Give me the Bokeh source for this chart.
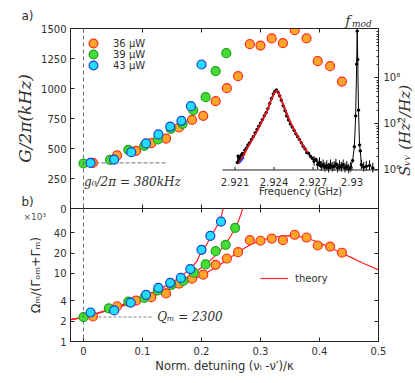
from bokeh.plotting import figure
from bokeh.models import (Range1d, LinearAxis, LogScale, FixedTicker, Span, Label,
                          Legend, LegendItem)
from bokeh.layouts import column
from bokeh.embed import file_html
from bokeh.resources import INLINE
from bokeh.core.properties import value
import math

# ---------------- data: panel a ----------------
det36_a = [0.016, 0.057, 0.089, 0.115, 0.140, 0.162, 0.184, 0.203, 0.224, 0.243,
           0.262, 0.282, 0.300, 0.319, 0.338, 0.358, 0.378, 0.397, 0.418, 0.438]
G36 = [380, 442, 481, 544, 583, 675, 739, 772, 894, 1003,
       1103, 1369, 1358, 1417, 1378, 1486, 1417, 1228, 1186, 1058]
det39_a = [0.000, 0.045, 0.076, 0.103, 0.126, 0.148, 0.168, 0.186, 0.207, 0.224, 0.242]
G39 = [375, 406, 489, 522, 575, 664, 706, 819, 928, 1144, 1294]
det43_a = [0.012, 0.052, 0.081, 0.106, 0.127, 0.147, 0.166, 0.182, 0.200]
G43 = [380, 408, 469, 542, 617, 683, 731, 853, 1200]
series_labels = ["36 μW", "39 μW", "43 μW"]
g0 = 380
G_ticks = [0, 250, 500, 750, 1000, 1250, 1500]
det_ticks = [0.0, 0.1, 0.2, 0.3, 0.4, 0.5]

# inset spectrum (GHz, Hz^2/Hz)
spec_f = [2.92118, 2.92124, 2.92128, 2.92133, 2.92140, 2.92148, 2.92157, 2.92166, 2.92176,
          2.92188, 2.92200, 2.92213, 2.92227, 2.92241, 2.92255, 2.92269, 2.92283, 2.92297,
          2.92311, 2.92325, 2.92339, 2.92353, 2.92367, 2.92381, 2.92395, 2.92407, 2.92419,
          2.92431, 2.92443, 2.92456, 2.92470, 2.92484, 2.92498, 2.92512, 2.92526, 2.92540,
          2.92554, 2.92568, 2.92582, 2.92596, 2.92610, 2.92624, 2.92638, 2.92652, 2.92666,
          2.92680, 2.92694, 2.92708, 2.92722, 2.92736, 2.92750, 2.92764, 2.92778, 2.92792,
          2.92806, 2.92820, 2.92834, 2.92848, 2.92862, 2.92876, 2.92890, 2.92904, 2.92918,
          2.92932, 2.92946, 2.92960, 2.92975, 2.92990, 2.93005, 2.93018, 2.93028, 2.93036,
          2.93040, 2.93044, 2.93050, 2.93058, 2.93064, 2.93072, 2.93090, 2.93110, 2.93135,
          2.93160]
spec_S = [1.45e6, 2.0e6, 1.5e6, 1.9e6, 1.7e6, 2.1e6, 2.3e6, 2.2e6, 2.7e6,
          3.0e6, 3.5e6, 3.9e6, 4.6e6, 5.3e6, 6.4e6, 7.6e6, 8.9e6, 1.05e7,
          1.25e7, 1.5e7, 1.75e7, 2.15e7, 2.8e7, 3.6e7, 4.5e7, 5.1e7, 5.5e7,
          4.9e7, 4.1e7, 3.3e7, 2.5e7, 1.95e7, 1.5e7, 1.22e7, 1.0e7, 8.6e6,
          7.3e6, 6.1e6, 5.3e6, 4.6e6, 3.9e6, 3.3e6, 2.9e6, 2.4e6, 2.3e6,
          2.0e6, 1.8e6, 1.55e6, 1.7e6, 1.3e6, 1.45e6, 1.2e6, 1.3e6, 1.15e6,
          1.25e6, 1.1e6, 1.3e6, 1.15e6, 1.2e6, 1.35e6, 1.1e6, 1.25e6, 1.15e6,
          1.3e6, 1.1e6, 1.2e6, 1.05e6, 1.15e6, 1.6e6, 3.2e6, 1.5e7, 2.0e8,
          1.05e9, 2.5e8, 2.0e7, 3.5e6, 2.6e6, 1.3e6, 1.15e6, 1.2e6, 1.25e6,
          1.1e6]
fit_f = [2.92130, 2.92160, 2.92200, 2.92240, 2.92280, 2.92320, 2.92350, 2.92380, 2.92400,
         2.92420, 2.92440, 2.92460, 2.92490, 2.92520, 2.92560, 2.92600, 2.92640, 2.92660]
fit_S = [1.4e6, 1.95e6, 3.2e6, 5.0e6, 8.0e6, 1.35e7, 2.0e7, 3.4e7, 4.6e7,
         5.4e7, 4.5e7, 3.2e7, 1.95e7, 1.2e7, 7.0e6, 4.4e6, 2.9e6, 2.4e6]
blue_f = [2.92138, 2.92170]
blue_S = [1.45e6, 1.9e6]
freq_ticks = [2.921, 2.924, 2.927, 2.930]
freq_tick_labels = ["2.921", "2.924", "2.927", "2.93"]
S_ticks = [1e6, 1e7, 1e8]
S_tick_labels = ["10⁶", "10⁷", "10⁸"]
S_minor = [m * 10 ** e for e in (6, 7, 8) for m in range(2, 10)] + [1e9]

# ---------------- data: panel b (x 10^3) ----------------
det36_b = det36_a
Q36 = [2.33, 3.3, 4.0, 4.49, 5.08, 7.1, 8.4, 9.6, 13.4, 16.6,
       20.6, 30.9, 30.3, 32.6, 30.9, 37.1, 33.8, 25.8, 24.9, 20.2]
det39_b = [0.000, 0.043, 0.076, 0.103, 0.126, 0.149, 0.169, 0.187, 0.207, 0.224, 0.241, 0.257]
Q39 = [2.28, 3.06, 3.87, 4.39, 5.62, 6.8, 7.8, 10.3, 13.6, 21.3, 26.4, 47.0]
det43_b = [0.012, 0.052, 0.080, 0.106, 0.127, 0.147, 0.165, 0.181, 0.200, 0.215, 0.233]
Q43 = [2.67, 2.86, 3.74, 4.86, 6.16, 7.3, 8.6, 11.6, 22.3, 35.8, 58.0]
Qm = 2.3
Q_ticks = [1, 2, 4, 10, 20, 40]

th36_det = [-0.022, 0.0, 0.025, 0.05, 0.075, 0.10, 0.125, 0.15, 0.175, 0.20, 0.216, 0.232,
            0.249, 0.266, 0.283, 0.30, 0.317, 0.334, 0.348, 0.362, 0.376, 0.39, 0.405,
            0.419, 0.435, 0.4525, 0.475, 0.50]
th36 = [2.1, 2.27, 2.6, 3.0, 3.5, 4.1, 4.9, 6.0, 7.4, 9.3, 11.2, 13.6,
        17.2, 21.8, 26.5, 30.6, 33.5, 35.3, 36.0, 35.5, 33.5, 30.6, 27.0,
        23.9, 20.4, 17.4, 14.0, 11.3]
th39_det = [-0.022, 0.0, 0.025, 0.05, 0.075, 0.10, 0.125, 0.15, 0.175, 0.19, 0.205, 0.215,
            0.224, 0.233, 0.241, 0.249, 0.257, 0.263, 0.267, 0.270]
th39 = [2.1, 2.27, 2.62, 3.05, 3.6, 4.3, 5.25, 6.6, 8.7, 10.5, 13.2, 15.6,
        18.5, 22.5, 27.5, 35.0, 46.0, 60.0, 75.0, 92.0]
th43_det = [-0.022, 0.0, 0.025, 0.05, 0.075, 0.10, 0.125, 0.15, 0.165, 0.181, 0.192, 0.200,
            0.208, 0.216, 0.224, 0.230, 0.234, 0.237]
th43 = [2.1, 2.27, 2.65, 3.1, 3.7, 4.5, 5.6, 7.4, 9.0, 11.7, 15.0, 21.5,
        26.0, 35.0, 46.0, 58.0, 72.0, 92.0]

# ---------------- styles ----------------
C36 = ("#ffa52a", "#ff2d1e")
C39 = ("#44dd33", "#22a022")
C43 = ("#22ddff", "#1f3fd0")
RED = "#ff2222"
FRAME = "#222222"
TXT = "#303030"
SANS = "DejaVu Sans"
SERIF = "DejaVu Serif"
PAGE_W, PAGE_H = 413, 383


def style_axis(ax, ticks, labels=True, tin=4, tout=0):
    ax.axis_line_color = FRAME
    ax.major_tick_line_color = FRAME
    ax.minor_tick_line_color = FRAME
    ax.major_tick_in = tin
    ax.major_tick_out = tout
    ax.minor_tick_in = 2
    ax.minor_tick_out = 0
    ax.major_label_text_color = TXT
    ax.major_label_text_font = SANS
    ax.axis_label_text_color = TXT
    ax.major_label_text_font_size = "10px"
    if labels:
        ax.major_label_standoff = 4
    else:
        ax.major_label_overrides = {t: "" for t in ticks}
        ax.major_label_standoff = 0


# ---------------- overlay for texts lying outside the plot frames ----------------
ov = figure(width=PAGE_W, height=PAGE_H, x_range=Range1d(0, PAGE_W), y_range=Range1d(PAGE_H, 0),
            x_axis_location=None, y_axis_location=None, output_backend="svg",
            toolbar_location=None, min_border=0)
ov.frame_align = False
ov.grid.visible = False
ov.outline_line_color = None
ov.background_fill_color = None
ov.border_fill_color = None
ov.margin = (0, 0, -PAGE_H, 0)


def ov_label(x, y, text, **kw):
    opts = dict(text_color=TXT, text_baseline="middle")
    opts.update(kw)
    ov.add_layout(Label(x=x, y=y, text=text, **opts))


ov_label(21, 15, "a)", text_font=SANS, text_font_size="12px")
ov_label(21, 201, "b)", text_font=SANS, text_font_size="12px")
ov_label(345, 20, "f", text_font=SERIF, text_font_style="italic", text_font_size="13px")
ov_label(351.5, 23, "mod", text_font=SERIF, text_font_style="italic", text_font_size="9px")
ov_label(404, 130, "Sᵥᵥ (Hz²/Hz)", text_align="center", angle=math.pi / 2,
         text_font=SERIF, text_font_style="italic", text_font_size="15px")
ov_label(23, 216, "×10³", text_font=SANS, text_font_size="9px", text_color="#555555")

# ---------------- panel a ----------------
p1 = figure(frame_width=308, frame_height=180,
            x_range=Range1d(-0.022, 0.5), y_range=Range1d(0, 1500),
            x_axis_location=None, y_axis_location=None,
            output_backend="svg", toolbar_location=None,
            min_border_left=70, min_border_right=35, min_border_top=28, min_border_bottom=8)
p1.grid.visible = False
p1.outline_line_color = FRAME
p1.background_fill_color = None
p1.border_fill_color = None
p1.extra_x_ranges = {"freq": Range1d(2.908346, 2.932038)}
p1.extra_y_ranges = {"S": Range1d(1.455e5, 1.191e9)}
p1.extra_y_scales = {"S": LogScale()}

axl = LinearAxis(ticker=FixedTicker(ticks=G_ticks), axis_label="G/2π(kHz)")
style_axis(axl, G_ticks)
axl.axis_label_text_font = SERIF
axl.axis_label_text_font_style = "italic"
axl.axis_label_text_font_size = "17px"
axl.axis_label_standoff = 3
p1.add_layout(axl, "left")

for loc, tout in (("above", 0), ("below", 4)):
    ax = LinearAxis(ticker=FixedTicker(ticks=det_ticks))
    style_axis(ax, det_ticks, labels=False, tout=tout)
    p1.add_layout(ax, loc)

axr = LinearAxis(y_range_name="S", ticker=FixedTicker(ticks=S_ticks, minor_ticks=S_minor),
                 major_label_overrides={t: l for t, l in zip(S_ticks, S_tick_labels)})
style_axis(axr, S_ticks)
axr.major_label_standoff = 5
p1.add_layout(axr, "right")

p1.add_layout(Span(location=0, dimension="height", line_color="#707070",
                   line_dash="4 3", line_width=1))
p1.line([0, 0.14], [g0, g0], line_color="#707070", line_dash="4 2", line_width=1)

# inset spectrum
kw = dict(x_range_name="freq", y_range_name="S")
p1.line(spec_f, spec_S, line_color="black", line_width=1, **kw)
p1.scatter(spec_f, spec_S, size=2.5, color="black", **kw)
err_f = [f for f, s in zip(spec_f, spec_S) if f > 2.9270 and s < 1.6e6]
err_S = [s for f, s in zip(spec_f, spec_S) if f > 2.9270 and s < 1.6e6]
p1.segment(x0=err_f, y0=[s / 1.25 for s in err_S], x1=err_f, y1=[s * 1.3 for s in err_S],
           line_color="black", line_width=1, **kw)
p1.line(fit_f, fit_S, line_color="#e0141e", line_width=1.8, **kw)
p1.line(blue_f, blue_S, line_color="#2040ff", line_width=1.5, **kw)
# inset x axis
p1.line([2.92004, 2.932038], [1e6, 1e6], line_color=FRAME, line_width=1, **kw)
p1.segment(x0=freq_ticks, y0=[1e6] * 4, x1=freq_ticks, y1=[1.17e6] * 4,
           line_color=FRAME, line_width=1, **kw)
p1.text(x=freq_ticks, y=[5.62e5] * 4, text=freq_tick_labels, text_align="center",
        text_baseline="middle", text_font=value(SANS), text_font_size="10px",
        text_color=TXT, **kw)
p1.add_layout(Label(x=2.926038, y=3.41e5, text="Frequency (GHz)", text_align="center",
                    text_baseline="middle", text_font=SANS, text_font_size="10px",
                    text_color=TXT, **kw))

# data points
r36 = p1.scatter(det36_a, G36, size=9, fill_color=C36[0], line_color=C36[1], line_width=1.2)
r39 = p1.scatter(det39_a, G39, size=9, fill_color=C39[0], line_color=C39[1], line_width=1.2)
r43 = p1.scatter(det43_a, G43, size=9, fill_color=C43[0], line_color=C43[1], line_width=1.2)

for lab, rend, ypos in zip(series_labels, (r36, r39, r43), (154, 143, 132)):
    lg = Legend(items=[LegendItem(label=lab, renderers=[rend])],
                location=(12, ypos), glyph_width=22, glyph_height=22, label_height=22,
                padding=0, margin=0, label_standoff=9,
                label_text_font=SANS, label_text_font_size="10px", label_text_color=TXT,
                border_line_color=None, background_fill_alpha=0)
    p1.add_layout(lg)

p1.add_layout(Label(x=0.001, y=217, text="g₀/2π = 380kHz", text_baseline="middle",
                    text_font=SERIF, text_font_style="italic", text_font_size="12px",
                    text_color=TXT))

# ---------------- panel b ----------------
p2 = figure(frame_width=308, frame_height=133,
            x_range=Range1d(-0.022, 0.5), y_range=Range1d(1, 90.3), y_axis_type="log",
            x_axis_location=None, y_axis_location=None,
            output_backend="svg", toolbar_location=None,
            min_border_left=70, min_border_right=35, min_border_top=0, min_border_bottom=30)
p2.margin = (-8, 0, 0, 0)
p2.grid.visible = False
p2.outline_line_color = FRAME
p2.background_fill_color = None
p2.border_fill_color = None

axl2 = LinearAxis(ticker=FixedTicker(ticks=Q_ticks), axis_label="Ωₘ/(Γₒₘ+Γₘ)")
style_axis(axl2, Q_ticks)
axl2.axis_label_text_font = SANS
axl2.axis_label_text_font_style = "normal"
axl2.axis_label_text_font_size = "12.5px"
axl2.axis_label_standoff = 8
p2.add_layout(axl2, "left")

axr2 = LinearAxis(ticker=FixedTicker(ticks=Q_ticks))
style_axis(axr2, Q_ticks, labels=False)
p2.add_layout(axr2, "right")

axb2 = LinearAxis(ticker=FixedTicker(ticks=det_ticks), axis_label="Norm. detuning (νₗ -ν′)/κ",
                  major_label_overrides={0.0: "0"})
style_axis(axb2, det_ticks)
axb2.major_label_standoff = 5
axb2.axis_label_text_font = SANS
axb2.axis_label_text_font_style = "normal"
axb2.axis_label_text_font_size = "11.5px"
axb2.axis_label_standoff = 1
p2.add_layout(axb2, "below")

p2.add_layout(Span(location=0, dimension="height", line_color="#707070",
                   line_dash="4 3", line_width=1))
p2.line([0, 0.117], [Qm, Qm], line_color="#b0b0b0", line_dash="3 2", line_width=1.5)

rth = p2.line(th36_det, th36, line_color=RED, line_width=1.2)
p2.line(th39_det, th39, line_color=RED, line_width=1.2)
p2.line(th43_det, th43, line_color=RED, line_width=1.2)

p2.scatter(det36_b, Q36, size=9, fill_color=C36[0], line_color=C36[1], line_width=1.2)
p2.scatter(det39_b, Q39, size=9, fill_color=C39[0], line_color=C39[1], line_width=1.2)
p2.scatter(det43_b, Q43, size=9, fill_color=C43[0], line_color=C43[1], line_width=1.2)

leg2 = Legend(items=[LegendItem(label="theory", renderers=[rth])],
              location=(190, 57), glyph_width=28, glyph_height=12, label_height=12,
              padding=0, margin=0, label_standoff=7,
              label_text_font=SANS, label_text_font_size="10px", label_text_color=TXT,
              border_line_color=None, background_fill_alpha=0)
p2.add_layout(leg2)

p2.add_layout(Label(x=0.125, y=2.33, text="Qₘ = 2300", text_baseline="middle",
                    text_font=SERIF, text_font_style="italic", text_font_size="12px",
                    text_color=TXT))

layout = column(ov, p1, p2)
open("out.html", "w").write(file_html(layout, INLINE))
